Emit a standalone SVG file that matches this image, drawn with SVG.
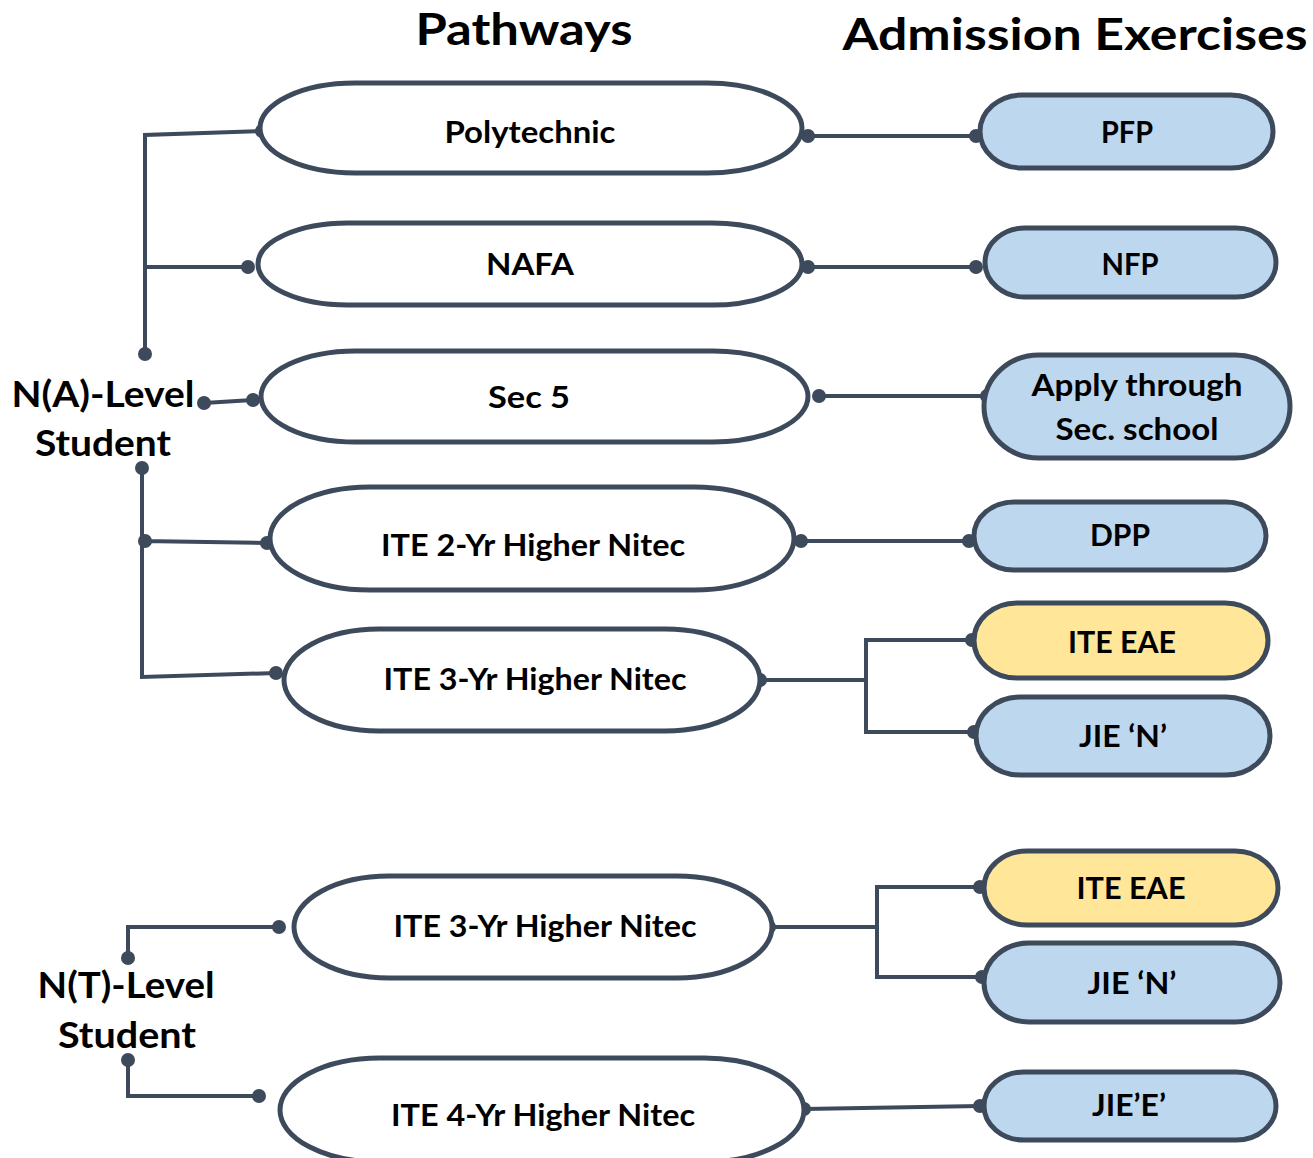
<svg xmlns="http://www.w3.org/2000/svg" width="1313" height="1158" viewBox="0 0 1313 1158">
<style>
.path{fill:#ffffff;stroke:#3d4a5c;stroke-width:5}
.blue{fill:#bdd7ee;stroke:#3d4a5c;stroke-width:5}
.yellow{fill:#ffe699;stroke:#3d4a5c;stroke-width:5}
.t{font-family:Lato,"Open Sans",sans-serif;font-weight:bold;fill:#000;text-anchor:middle}
.n{font-size:30px}
.h{font-size:44px}
.s{font-size:36px}
.c{fill:none;stroke:#3d4a5c;stroke-width:4}
.d{fill:#3d4a5c}
</style>
<rect width="1313" height="1158" fill="#ffffff"/>
<g id="titles">
<text class="t h" x="524" y="45" textLength="217" lengthAdjust="spacingAndGlyphs">Pathways</text>
<text class="t h" x="1075" y="50" textLength="465" lengthAdjust="spacingAndGlyphs">Admission Exercises</text>
</g>
<g id="connectors">
<path class="c" d="M145,354 V135 L262,131 M145,267 H248"/>
<path class="c" d="M204,403 L253,400"/>
<path class="c" d="M142,468 V677 L276,673 M142,541 L267,543"/>
<path class="c" d="M808,136 H976 M808,267 H976 M819,396 H987 M801,541 H969"/>
<path class="c" d="M760,680 H866 M972,640 H866 V732 H974"/>
<path class="c" d="M769,927 H877 M980,887 H877 V977 H982"/>
<path class="c" d="M804,1109 L980,1106"/>
<path class="c" d="M128,958 V927 H279 M128,1060 V1096 H259"/>
<g class="d">
<circle cx="145" cy="354" r="7"/><circle cx="262" cy="131" r="7"/><circle cx="248" cy="267" r="7"/>
<circle cx="204" cy="403" r="7"/><circle cx="253" cy="400" r="7"/>
<circle cx="142" cy="468" r="7"/><circle cx="145" cy="541" r="7"/><circle cx="267" cy="543" r="7"/><circle cx="276" cy="673" r="7"/>
<circle cx="808" cy="136" r="7"/><circle cx="976" cy="136" r="7"/>
<circle cx="808" cy="267" r="7"/><circle cx="976" cy="267" r="7"/>
<circle cx="819" cy="396" r="7"/><circle cx="987" cy="396" r="7"/>
<circle cx="801" cy="541" r="7"/><circle cx="969" cy="541" r="7"/>
<circle cx="760" cy="680" r="7"/><circle cx="972" cy="640" r="7"/><circle cx="974" cy="732" r="7"/>
<circle cx="769" cy="927" r="7"/><circle cx="980" cy="887" r="7"/><circle cx="982" cy="977" r="7"/>
<circle cx="804" cy="1109" r="7"/><circle cx="980" cy="1106" r="7"/>
<circle cx="128" cy="958" r="7"/><circle cx="279" cy="927" r="7"/>
<circle cx="128" cy="1060" r="7"/><circle cx="259" cy="1096" r="7"/>
</g>
</g>
<g id="na-student">
<text class="t s" x="103" y="407" textLength="183" lengthAdjust="spacingAndGlyphs">N(A)-Level</text>
<text class="t s" x="103" y="456" textLength="136" lengthAdjust="spacingAndGlyphs">Student</text>
</g>
<g id="nt-student">
<text class="t s" x="126" y="998" textLength="177" lengthAdjust="spacingAndGlyphs">N(T)-Level</text>
<text class="t s" x="127" y="1048" textLength="138" lengthAdjust="spacingAndGlyphs">Student</text>
</g>
<g id="polytechnic">
<rect class="path" x="260" y="83" width="542" height="90" rx="95" ry="45"/>
<text class="t n" x="530" y="143" textLength="171" lengthAdjust="spacingAndGlyphs">Polytechnic</text>
</g>
<g id="nafa">
<rect class="path" x="258" y="223" width="544" height="82" rx="90" ry="41"/>
<text class="t n" x="530" y="275" textLength="88" lengthAdjust="spacingAndGlyphs">NAFA</text>
</g>
<g id="sec5">
<rect class="path" x="261" y="351" width="547" height="91" rx="95" ry="45.5"/>
<text class="t n" x="529" y="408" textLength="82" lengthAdjust="spacingAndGlyphs">Sec 5</text>
</g>
<g id="ite2">
<rect class="path" x="270" y="487" width="524" height="103" rx="100" ry="51.5"/>
<text class="t n" x="533" y="556" textLength="304" lengthAdjust="spacingAndGlyphs">ITE 2-Yr Higher Nitec</text>
</g>
<g id="ite3a">
<rect class="path" x="284" y="629" width="476" height="102" rx="95" ry="51"/>
<text class="t n" x="535" y="690" textLength="303" lengthAdjust="spacingAndGlyphs">ITE 3-Yr Higher Nitec</text>
</g>
<g id="ite3t">
<rect class="path" x="294" y="876" width="478" height="102" rx="95" ry="51"/>
<text class="t n" x="545" y="937" textLength="303" lengthAdjust="spacingAndGlyphs">ITE 3-Yr Higher Nitec</text>
</g>
<g id="ite4">
<rect class="path" x="280" y="1058" width="524" height="104" rx="100" ry="52"/>
<text class="t n" x="543" y="1126" textLength="304" lengthAdjust="spacingAndGlyphs">ITE 4-Yr Higher Nitec</text>
</g>
<g id="pfp">
<rect class="blue" x="980" y="95" width="293" height="73" rx="42" ry="36.5"/>
<text class="t n" x="1127" y="143" textLength="52" lengthAdjust="spacingAndGlyphs">PFP</text>
</g>
<g id="nfp">
<rect class="blue" x="985" y="228" width="291" height="69" rx="40" ry="34.5"/>
<text class="t n" x="1130" y="275" textLength="57" lengthAdjust="spacingAndGlyphs">NFP</text>
</g>
<g id="apply">
<rect class="blue" x="984" y="355" width="306" height="103" rx="55" ry="51.5"/>
<text class="t n" x="1137" y="396" textLength="211" lengthAdjust="spacingAndGlyphs">Apply through</text>
<text class="t n" x="1137" y="440" textLength="163" lengthAdjust="spacingAndGlyphs">Sec. school</text>
</g>
<g id="dpp">
<rect class="blue" x="974" y="502" width="292" height="68" rx="40" ry="34"/>
<text class="t n" x="1120" y="546" textLength="60" lengthAdjust="spacingAndGlyphs">DPP</text>
</g>
<g id="eae1">
<rect class="yellow" x="974" y="603" width="294" height="75" rx="43" ry="37.5"/>
<text class="t n" x="1122" y="653" textLength="108" lengthAdjust="spacingAndGlyphs">ITE EAE</text>
</g>
<g id="jien1">
<rect class="blue" x="976" y="697" width="294" height="78" rx="44" ry="39"/>
<text class="t n" x="1123" y="747" textLength="88" lengthAdjust="spacingAndGlyphs">JIE ‘N’</text>
</g>
<g id="eae2">
<rect class="yellow" x="984" y="851" width="294" height="74" rx="43" ry="37"/>
<text class="t n" x="1131" y="899" textLength="109" lengthAdjust="spacingAndGlyphs">ITE EAE</text>
</g>
<g id="jien2">
<rect class="blue" x="984" y="943" width="296" height="79" rx="45" ry="39.5"/>
<text class="t n" x="1132" y="994" textLength="89" lengthAdjust="spacingAndGlyphs">JIE ‘N’</text>
</g>
<g id="jiee">
<rect class="blue" x="984" y="1072" width="292" height="68" rx="40" ry="34"/>
<text class="t n" x="1129" y="1116" textLength="74" lengthAdjust="spacingAndGlyphs">JIE’E’</text>
</g>
</svg>
